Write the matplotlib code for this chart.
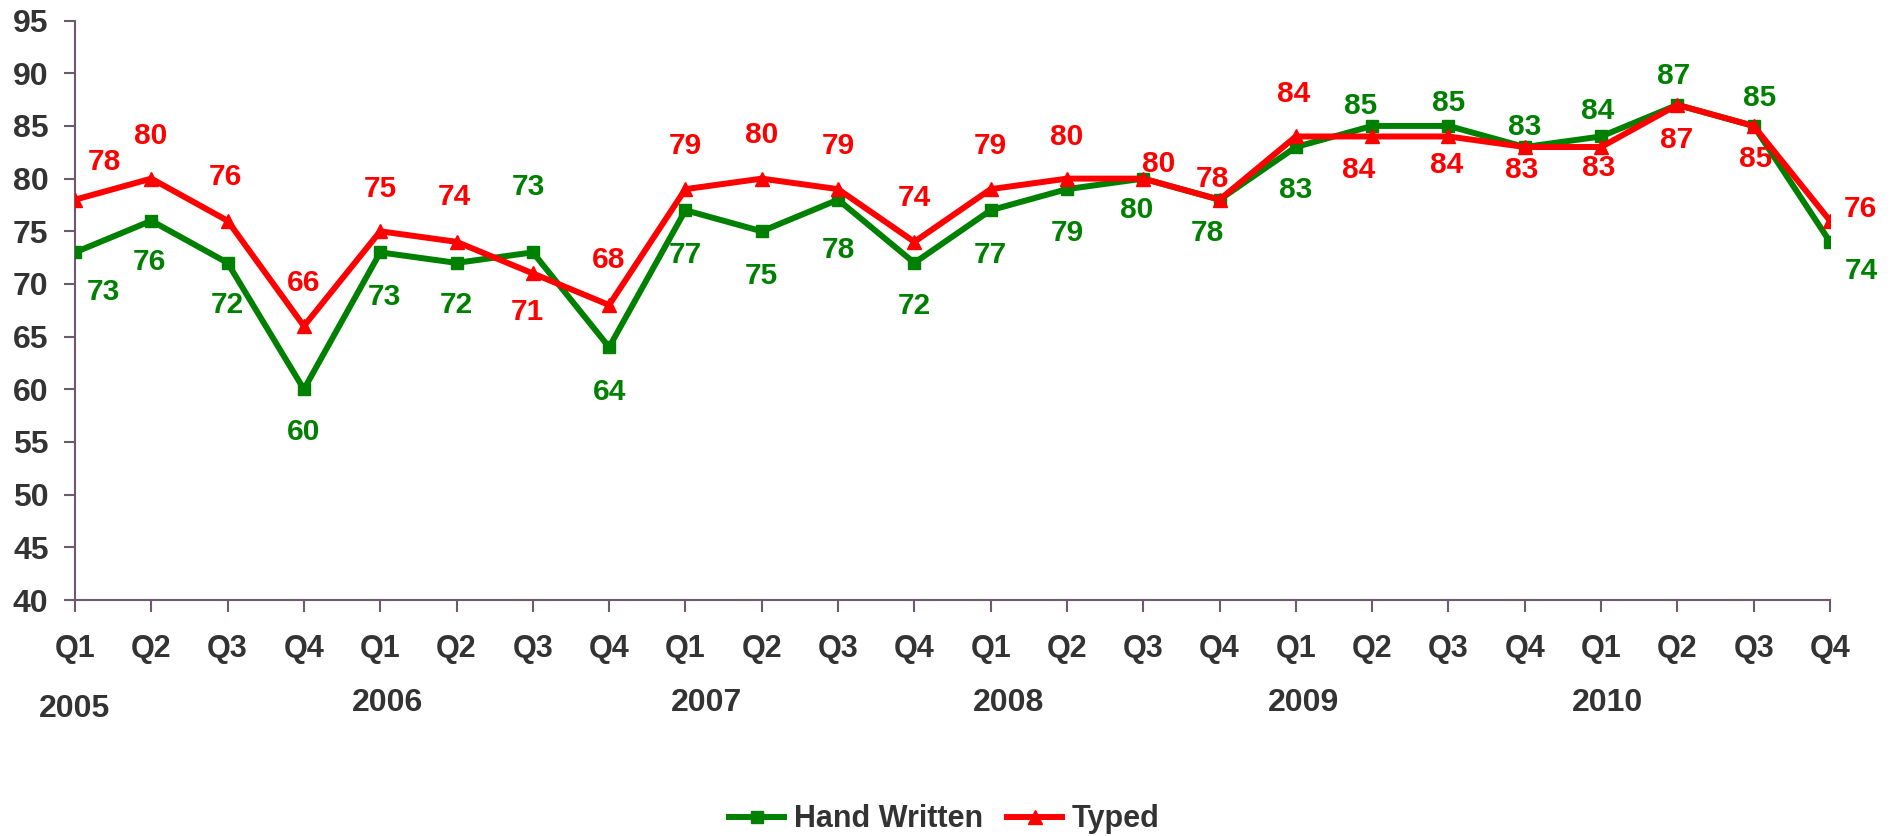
import numpy as np
import matplotlib
matplotlib.use('Agg')
import matplotlib.pyplot as plt

plt.rcParams['font.family'] = ['Liberation Sans', 'DejaVu Sans']
plt.rcParams['font.weight'] = 'bold'

quarters = ['Q1', 'Q2', 'Q3', 'Q4'] * 6
years = ['2005', '2006', '2007', '2008', '2009', '2010']
hand_written = [73, 76, 72, 60, 73, 72, 73, 64, 77, 75, 78, 72,
                77, 79, 80, 78, 83, 85, 85, 83, 84, 87, 85, 74]
typed = [78, 80, 76, 66, 75, 74, 71, 68, 79, 80, 79, 74,
         79, 80, 80, 78, 84, 84, 84, 83, 83, 87, 85, 76]

# label offsets in pixels (dx, dy downwards), tuned by eye
green_off = [(28, 40), (-2, 41), (0, 42), (0, 43), (4, 45), (0, 42), (-4, -65), (0, 45),
             (0, 45), (0, 45), (0, 50), (0, 43), (0, 45), (0, 44), (-7, 31), (-12, 33),
             (0, 43), (-12, -20), (0, -23), (0, -20), (-3, -25), (-4, -29), (6, -28), (31, 29)]
red_off = [(29, -38), (-1, -43), (-2, -44), (0, -43), (0, -42), (-2, -45), (-5, 39), (-1, -45),
           (0, -43), (0, -44), (0, -43), (0, -44), (0, -43), (0, -42), (15, -15), (-7, -21),
           (-2, -42), (-14, 34), (-2, 29), (-3, 23), (-2, 21), (-1, 35), (2, 33), (30, -12)]
year_x = [0, 4.1, 8.27, 12.23, 16.1, 20.09]

GREEN = '#008000'
RED = '#FF0000'
TXT = '#333333'
AXC = '#6E5A6E'
FS = 22

fig = plt.figure(figsize=(19, 8.36), dpi=100)
ax = fig.add_axes([75 / 1900, 1 - 600 / 836, (1830 - 75) / 1900, (600 - 20.6) / 836])

x = np.arange(len(quarters))
ax.plot(x, hand_written, color=GREEN, lw=4.3, marker='s', ms=8.5, label='Hand Written', zorder=3)
ax.plot(x, typed, color=RED, lw=4.3, marker='^', ms=10, label='Typed', zorder=4)

for i in range(len(x)):
    dx, dy = green_off[i]
    ax.annotate(str(hand_written[i]), (x[i], hand_written[i]), xytext=(dx, -dy),
                textcoords='offset pixels', ha='center', va='center',
                color=GREEN, fontsize=21.5, fontweight='bold', annotation_clip=False)
    dx, dy = red_off[i]
    ax.annotate(str(typed[i]), (x[i], typed[i]), xytext=(dx, -dy),
                textcoords='offset pixels', ha='center', va='center',
                color=RED, fontsize=21.5, fontweight='bold', annotation_clip=False)

ax.set_xlim(0, len(x) - 1)
ax.set_ylim(40, 95)
ax.set_yticks(np.arange(40, 96, 5))
ax.set_xticks(x)
ax.set_xticklabels(quarters)

for s in ['top', 'right']:
    ax.spines[s].set_visible(False)
for s in ['left', 'bottom']:
    ax.spines[s].set_color(AXC)
    ax.spines[s].set_linewidth(1.5)
    ax.spines[s].set_clip_on(False)

ax.tick_params(axis='x', direction='out', length=8.5, width=1.5, color=AXC,
               labelsize=FS, labelcolor=TXT, pad=16)
ax.tick_params(axis='y', direction='out', length=8, width=1.5, color=AXC,
               labelsize=23, labelcolor=TXT, pad=11)
for lab in ax.get_xticklabels() + ax.get_yticklabels():
    lab.set_fontweight('bold')

trans = ax.get_xaxis_transform()
for i, yr in enumerate(years):
    yy = -0.188 if i == 0 else -0.178
    ax.text(year_x[i], yy, yr, transform=trans, ha='center', va='center',
            fontsize=23, fontweight='bold', color=TXT)

leg = fig.legend(loc='center', bbox_to_anchor=(0.497, 0.02), ncol=2, frameon=False,
                 handlelength=1.8, handletextpad=0.3, columnspacing=0.8,
                 prop={'size': FS, 'weight': 'bold'})
for t in leg.get_texts():
    t.set_color(TXT)

fig.savefig('out.png', dpi=100)
